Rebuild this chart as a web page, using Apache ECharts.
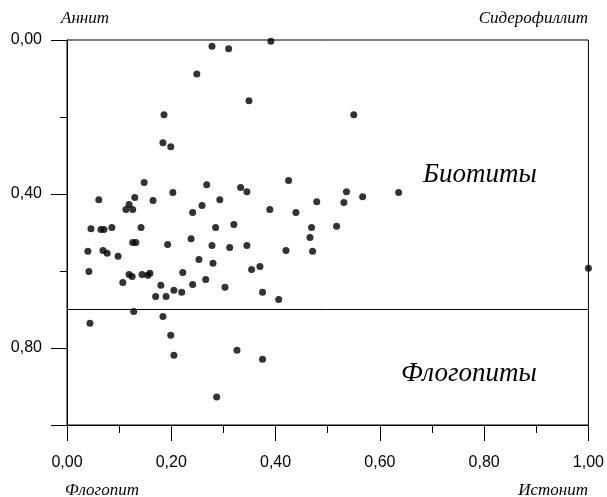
<!DOCTYPE html>
<html><head><meta charset="utf-8">
<script src="https://cdn.jsdelivr.net/npm/echarts@6/dist/echarts.min.js"></script>
<style>html,body{margin:0;padding:0;background:#fff}#c{width:607px;height:497px}</style>
</head><body><div id="c"></div>
<script>
// Data (x = Истонит fraction, y = Fe/(Fe+Mg), inverted axis)
const xValues = [
  0.278, 0.310, 0.391, 0.249, 0.349, 0.186, 0.550, 0.184, 0.199, 0.148,
  0.061, 0.130, 0.119, 0.113, 0.126, 0.165, 0.203, 0.268, 0.293, 0.259,
  0.241, 0.333, 0.345, 0.425, 0.536, 0.567, 0.636, 0.479, 0.531, 0.389,
  0.439, 0.046, 0.065, 0.071, 0.086, 0.142, 0.285, 0.320, 0.469, 0.517,
  0.466, 0.040, 0.069, 0.077, 0.098, 0.126, 0.132, 0.193, 0.238, 0.278,
  0.312, 0.345, 0.420, 0.471, 0.253, 0.280, 0.354, 0.370, 1.000, 0.042,
  0.107, 0.119, 0.125, 0.144, 0.155, 0.159, 0.222, 0.180, 0.170, 0.190,
  0.205, 0.220, 0.241, 0.266, 0.303, 0.375, 0.406, 0.128, 0.044, 0.184,
  0.199, 0.205, 0.326, 0.375, 0.287
];
const yValues = [
  0.016, 0.023, 0.003, 0.088, 0.158, 0.194, 0.194, 0.267, 0.277, 0.370,
  0.415, 0.409, 0.427, 0.440, 0.440, 0.417, 0.396, 0.376, 0.415, 0.430,
  0.448, 0.383, 0.394, 0.365, 0.394, 0.407, 0.396, 0.420, 0.422, 0.440,
  0.448, 0.490, 0.492, 0.492, 0.487, 0.487, 0.487, 0.479, 0.487, 0.484,
  0.513, 0.549, 0.547, 0.554, 0.562, 0.526, 0.526, 0.531, 0.516, 0.534,
  0.539, 0.534, 0.547, 0.549, 0.570, 0.580, 0.596, 0.588, 0.593, 0.601,
  0.630, 0.609, 0.614, 0.609, 0.611, 0.606, 0.604, 0.637, 0.666, 0.666,
  0.650, 0.655, 0.635, 0.622, 0.642, 0.655, 0.674, 0.705, 0.736, 0.718,
  0.767, 0.819, 0.806, 0.829, 0.927
];
const xTickValues = [0, 0.2, 0.4, 0.6, 0.8, 1.0];
const xTickLabels = ['0,00', '0,20', '0,40', '0,60', '0,80', '1,00'];
const yTickValues = [0, 0.4, 0.8];
const yTickLabels = ['0,00', '0,40', '0,80'];
const boundary = 0.70;
const cornerLabels = ['Аннит', 'Сидерофиллит', 'Флогопит', 'Истонит'];
const fieldLabels = ['Биотиты', 'Флогопиты'];

const points = xValues.map((x, i) => [x, yValues[i]]);
function labelFor(values, labels, v) {
  for (let i = 0; i < values.length; i++) if (Math.abs(values[i] - v) < 1e-6) return labels[i];
  return '';
}
const tickFont = { color: '#000', fontFamily: 'Liberation Sans', fontSize: 16 };
const italic = { fill: '#000', fontFamily: 'Liberation Serif', fontStyle: 'italic' };

const chart = echarts.init(document.getElementById('c'), null, { renderer: 'canvas' });
chart.setOption({
  animation: false,
  backgroundColor: '#fff',
  grid: { left: 67, right: 18, top: 40, bottom: 72, show: true, borderColor: '#000', borderWidth: 1, backgroundColor: 'transparent' },
  xAxis: [{
    type: 'value', min: 0, max: 1, interval: 0.2, position: 'bottom',
    axisLine: { show: true, onZero: false, lineStyle: { color: '#000', width: 1 } },
    axisTick: { show: true, inside: false, length: 16, lineStyle: { color: '#000' } },
    minorTick: { show: true, splitNumber: 2, length: 8, lineStyle: { color: '#000' } },
    splitLine: { show: false },
    axisLabel: { ...tickFont, margin: 30, formatter: v => labelFor(xTickValues, xTickLabels, v) }
  }],
  yAxis: [{
    type: 'value', min: 0, max: 1, interval: 0.4, inverse: true, position: 'left',
    axisLine: { show: true, onZero: false, lineStyle: { color: '#000', width: 1 } },
    axisTick: { show: true, inside: false, length: 16, lineStyle: { color: '#000' } },
    splitLine: { show: false },
    axisLabel: { ...tickFont, margin: 25, formatter: v => labelFor(yTickValues, yTickLabels, v) }
  }, {
    type: 'value', min: 0, max: 1, interval: 0.2, inverse: true, position: 'left',
    axisLine: { show: false },
    axisTick: { show: true, inside: false, length: 7, lineStyle: { color: '#000' } },
    splitLine: { show: false },
    axisLabel: { show: false }
  }],
  series: [{
    type: 'scatter', xAxisIndex: 0, yAxisIndex: 0,
    data: points, symbol: 'circle', symbolSize: 7,
    itemStyle: { color: '#000' },
    markLine: {
      silent: true, symbol: ['none', 'none'], label: { show: false },
      lineStyle: { color: '#000', type: 'solid', width: 1 },
      data: [{ yAxis: boundary }]
    }
  }],
  graphic: [
    { type: 'text', left: 61, top: 10, style: { ...italic, text: cornerLabels[0], fontSize: 17 } },
    { type: 'text', right: 19, top: 10, style: { ...italic, text: cornerLabels[1], fontSize: 17 } },
    { type: 'text', left: 65, top: 482, style: { ...italic, text: cornerLabels[2], fontSize: 17 } },
    { type: 'text', right: 19, top: 482, style: { ...italic, text: cornerLabels[3], fontSize: 17 } },
    { type: 'text', left: 423, top: 161, style: { ...italic, text: fieldLabels[0], fontSize: 27 } },
    { type: 'text', left: 401, top: 360, style: { ...italic, text: fieldLabels[1], fontSize: 27 } }
  ]
});
</script></body></html>
